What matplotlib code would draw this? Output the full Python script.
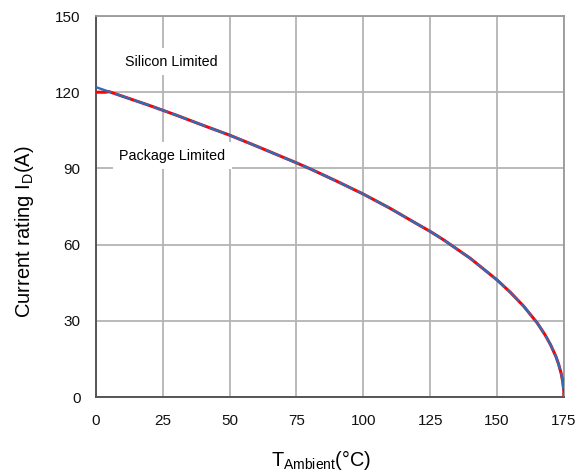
import matplotlib
matplotlib.use("Agg")
import matplotlib.pyplot as plt

plt.rcParams['font.family'] = ['Liberation Sans', 'DejaVu Sans']

# Ambient temperature (°C) and rated drain current (A)
temp_silicon = [0, 5, 10, 15, 20, 25, 30, 40, 50, 60, 70, 75, 80, 90, 100,
                110, 120, 125, 130, 140, 150, 155, 160, 165, 168, 170, 172,
                173, 174, 174.6, 175]
current_silicon = [122.0, 120.2, 118.4, 116.6, 114.8, 112.9, 111.0, 107.0,
                   103.1, 98.8, 94.4, 92.2, 89.9, 85.0, 79.9, 74.3, 68.2,
                   65.2, 61.9, 54.6, 46.1, 41.2, 35.7, 29.2, 24.4, 20.6, 16.0,
                   13.0, 9.2, 5.8, 0.0]

temp_package = [0, 3.5, 5, 10, 15, 20, 25, 30, 40, 50, 60, 70, 75, 80, 90,
                100, 110, 120, 125, 130, 140, 150, 155, 160, 165, 168, 170,
                172, 173, 174, 174.6, 175, 175]
current_package = [120.0, 120.0, 120.2, 118.4, 116.6, 114.8, 112.9, 111.0,
                   107.0, 103.1, 98.8, 94.4, 92.2, 89.9, 85.0, 79.9, 74.3,
                   68.2, 65.2, 61.9, 54.6, 46.1, 41.2, 35.7, 29.2, 24.4, 20.6,
                   16.0, 13.0, 9.2, 5.8, 2.0, 0.0]

x_ticks = [0, 25, 50, 75, 100, 125, 150, 175]
y_ticks = [0, 30, 60, 90, 120, 150]

fig = plt.figure(figsize=(5.88, 4.74), dpi=100)
ax = fig.add_axes([0.163, 0.1624, 0.796, 0.8038])

ax.plot(temp_package, current_package, color='#ff0000', lw=2.2,
        solid_capstyle='butt', zorder=3)
ax.plot(temp_silicon, current_silicon, color='#2e6db4', lw=1.7,
        dashes=(7, 1.5), zorder=4)

ax.set_xlim(0, 175)
ax.set_ylim(0, 150)
ax.set_xticks(x_ticks)
ax.set_yticks(y_ticks)
ax.tick_params(axis='both', length=0, labelsize=11, colors='#111111')
ax.tick_params(axis='x', pad=12)
ax.tick_params(axis='y', pad=11)

ax.grid(True, color='#b4b4b4', lw=1.3)
ax.set_axisbelow(True)
for side in ('top', 'right'):
    ax.spines[side].set_color('#9a9a9a')
    ax.spines[side].set_linewidth(1.3)
for side in ('left', 'bottom'):
    ax.spines[side].set_color('#555555')
    ax.spines[side].set_linewidth(1.4)

box = dict(boxstyle='square,pad=0.45', facecolor='white', edgecolor='none')
ax.text(28.4, 132, 'Silicon Limited', fontsize=10.3, ha='center', va='center',
        bbox=box, zorder=2)
ax.text(28.6, 95, 'Package Limited', fontsize=10.3, ha='center', va='center',
        bbox=box, zorder=2)

ax.set_xlabel(r'T$_{\mathregular{Ambient}}$(°C)', fontsize=14.3)
ax.set_ylabel(r'Current rating I$_{\mathregular{D}}$(A)', fontsize=14.5)
ax.xaxis.set_label_coords(0.482, -0.135)
ax.yaxis.set_label_coords(-0.128, 0.433)

fig.savefig('out.png', dpi=100)
